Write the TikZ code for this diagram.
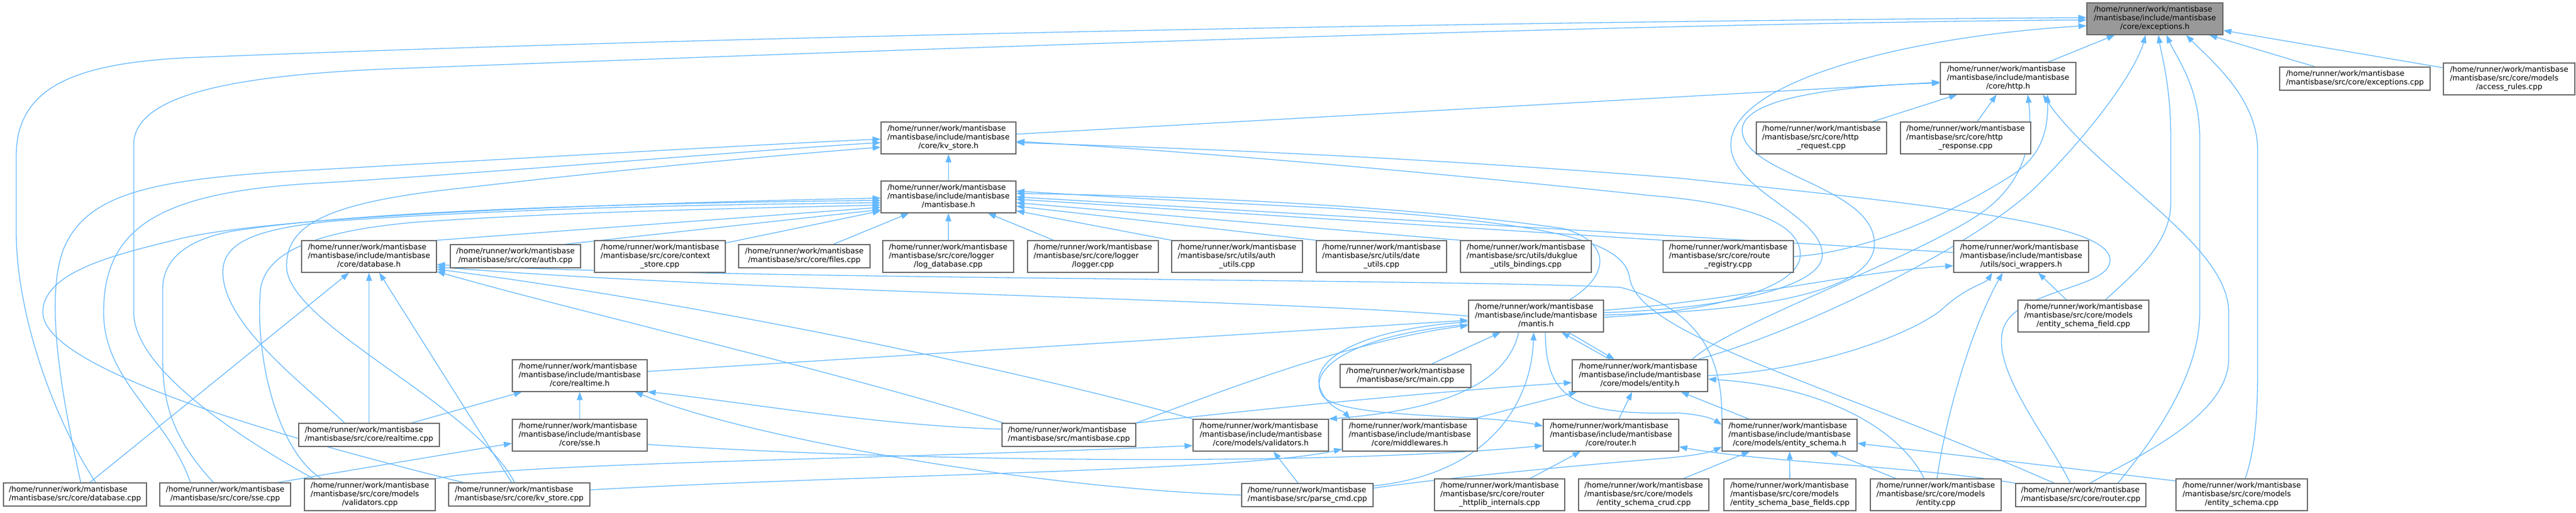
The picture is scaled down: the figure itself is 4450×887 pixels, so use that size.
\documentclass[tikz,border=0pt]{standalone}
\usepackage{fontspec}
\setmainfont{DejaVu Sans}
\usetikzlibrary{arrows.meta,backgrounds,calc}
\definecolor{edgec}{HTML}{63B8FF}
\definecolor{nborder}{HTML}{666666}
\definecolor{mainfill}{HTML}{999999}
\newcommand\LLL[3]{\begin{tabular}{@{}l@{}}#1\\#2\\\multicolumn{1}{@{}c@{}}{#3}\end{tabular}}
\newcommand\LL[2]{\begin{tabular}{@{}l@{}}#1\\\multicolumn{1}{@{}c@{}}{#2}\end{tabular}}
\newcommand\Hm{/home/runner/work/mantisbase}
\newcommand\Inc{/mantisbase/include/mantisbase}
\newcommand\mk[7]{\node[#1, minimum width={(#5-#3)*0.5pt}, minimum height={(#6-#4)*0.5pt}] (#2) at ({(#3+#5)/2},{(#4+#6)/2}) {#7};}
\tikzset{
  nbox/.style={draw=nborder, fill=white, line width=0.6pt, inner sep=0pt, text=black, font=\fontsize{6.5pt}{7.5pt}\selectfont},
  mbox/.style={nbox, fill=mainfill},
  ed/.style={draw=edgec, line width=0.65pt, -{Triangle[length=7pt,width=5pt]}}
}
\begin{document}
\begin{tikzpicture}[x=0.5pt,y=-0.5pt]
\useasboundingbox (0,0) rectangle (4450,887);
% nodes
\mk{mbox}{E}{3605}{5}{3840}{60}{\LLL{\Hm}{\Inc}{/core/exceptions.h}}
\mk{nbox}{H}{3352}{108}{3586}{163}{\LLL{\Hm}{\Inc}{/core/http.h}}
\mk{nbox}{excpp}{3938}{116}{4198}{156}{\LL{\Hm}{/mantisbase/src/core/exceptions.cpp}}
\mk{nbox}{access}{4221}{109}{4448}{164}{\LLL{\Hm}{/mantisbase/src/core/models}{/access\_rules.cpp}}
\mk{nbox}{KV}{1522}{211}{1755}{266}{\LLL{\Hm}{\Inc}{/core/kv\_store.h}}
\mk{nbox}{hreq}{3034}{211}{3259}{266}{\LLL{\Hm}{/mantisbase/src/core/http}{\_request.cpp}}
\mk{nbox}{hresp}{3283}{211}{3508}{266}{\LLL{\Hm}{/mantisbase/src/core/http}{\_response.cpp}}
\mk{nbox}{MB}{1522}{313}{1755}{368}{\LLL{\Hm}{\Inc}{/mantisbase.h}}
\mk{nbox}{DB}{521}{416}{754}{471}{\LLL{\Hm}{\Inc}{/core/database.h}}
\mk{nbox}{auth}{778}{423}{1003}{463}{\LL{\Hm}{/mantisbase/src/core/auth.cpp}}
\mk{nbox}{ctx}{1027}{416}{1253}{471}{\LLL{\Hm}{/mantisbase/src/core/context}{\_store.cpp}}
\mk{nbox}{files}{1276}{423}{1503}{463}{\LL{\Hm}{/mantisbase/src/core/files.cpp}}
\mk{nbox}{logdb}{1525}{416}{1751}{471}{\LLL{\Hm}{/mantisbase/src/core/logger}{/log\_database.cpp}}
\mk{nbox}{logger}{1775}{416}{2001}{471}{\LLL{\Hm}{/mantisbase/src/core/logger}{/logger.cpp}}
\mk{nbox}{authu}{2024}{416}{2250}{471}{\LLL{\Hm}{/mantisbase/src/utils/auth}{\_utils.cpp}}
\mk{nbox}{dateu}{2274}{416}{2499}{471}{\LLL{\Hm}{/mantisbase/src/utils/date}{\_utils.cpp}}
\mk{nbox}{duk}{2523}{416}{2749}{471}{\LLL{\Hm}{/mantisbase/src/utils/dukglue}{\_utils\_bindings.cpp}}
\mk{nbox}{routereg}{2873}{416}{3098}{471}{\LLL{\Hm}{/mantisbase/src/core/route}{\_registry.cpp}}
\mk{nbox}{SW}{3375}{416}{3608}{471}{\LLL{\Hm}{\Inc}{/utils/soci\_wrappers.h}}
\mk{nbox}{M}{2537}{519}{2770}{574}{\LLL{\Hm}{\Inc}{/mantis.h}}
\mk{nbox}{esf}{3486}{519}{3712}{574}{\LLL{\Hm}{/mantisbase/src/core/models}{/entity\_schema\_field.cpp}}
\mk{nbox}{RT}{885}{622}{1118}{677}{\LLL{\Hm}{\Inc}{/core/realtime.h}}
\mk{nbox}{main}{2315}{630}{2541}{670}{\LL{\Hm}{/mantisbase/src/main.cpp}}
\mk{nbox}{EN}{2716}{622}{2950}{677}{\LLL{\Hm}{\Inc}{/core/models/entity.h}}
\mk{nbox}{rtcpp}{516}{732}{759}{772}{\LL{\Hm}{/mantisbase/src/core/realtime.cpp}}
\mk{nbox}{SSE}{885}{725}{1118}{780}{\LLL{\Hm}{\Inc}{/core/sse.h}}
\mk{nbox}{mbcpp}{1731}{732}{1962}{772}{\LL{\Hm}{/mantisbase/src/mantisbase.cpp}}
\mk{nbox}{VH}{2061}{725}{2295}{780}{\LLL{\Hm}{\Inc}{/core/models/validators.h}}
\mk{nbox}{MW}{2319}{725}{2552}{780}{\LLL{\Hm}{\Inc}{/core/middlewares.h}}
\mk{nbox}{R}{2666}{725}{2900}{780}{\LLL{\Hm}{\Inc}{/core/router.h}}
\mk{nbox}{ES}{2975}{725}{3208}{780}{\LLL{\Hm}{\Inc}{/core/models/entity\_schema.h}}
\mk{nbox}{dbcpp}{6}{835}{253}{875}{\LL{\Hm}{/mantisbase/src/core/database.cpp}}
\mk{nbox}{ssecpp}{276}{835}{502}{875}{\LL{\Hm}{/mantisbase/src/core/sse.cpp}}
\mk{nbox}{valcpp}{526}{828}{752}{883}{\LLL{\Hm}{/mantisbase/src/core/models}{/validators.cpp}}
\mk{nbox}{kvcpp}{775}{835}{1019}{875}{\LL{\Hm}{/mantisbase/src/core/kv\_store.cpp}}
\mk{nbox}{parse}{2145}{836}{2372}{876}{\LL{\Hm}{/mantisbase/src/parse\_cmd.cpp}}
\mk{nbox}{httplib}{2478}{828}{2703}{883}{\LLL{\Hm}{/mantisbase/src/core/router}{\_httplib\_internals.cpp}}
\mk{nbox}{crud}{2727}{828}{2952}{883}{\LLL{\Hm}{/mantisbase/src/core/models}{/entity\_schema\_crud.cpp}}
\mk{nbox}{basef}{2978}{828}{3206}{883}{\LLL{\Hm}{/mantisbase/src/core/models}{/entity\_schema\_base\_fields.cpp}}
\mk{nbox}{entcpp}{3231}{828}{3457}{883}{\LLL{\Hm}{/mantisbase/src/core/models}{/entity.cpp}}
\mk{nbox}{rcpp}{3482}{836}{3707}{876}{\LL{\Hm}{/mantisbase/src/core/router.cpp}}
\mk{nbox}{escpp}{3759}{828}{3986}{883}{\LLL{\Hm}{/mantisbase/src/core/models}{/entity\_schema.cpp}}
\begin{scope}[on background layer]
\fill[white] (0,0) rectangle (4450,887);
% ---- to exceptions.h
\draw[ed] (H) -- (E);
\draw[ed] (excpp) -- (E);
\draw[ed] (access) -- (E);
\draw[ed] ([xshift=3pt]escpp.north) .. controls (3895,780) and (3900,720) .. (3900,640) -- (3900,260) .. controls (3900,170) and (3820,105) .. ([xshift=27pt]E.south);
\draw[ed] ([yshift=3pt]M.east) .. controls (2960,535) and (3150,500) .. (3148,440) .. controls (3146,370) and (2990,330) .. (2990,250) .. controls (2990,140) and (3300,62) .. ([yshift=-6pt]E.west);
\draw[ed] ([xshift=18pt]dbcpp.north) .. controls (90,720) and (28,540) .. (28,400) -- (28,270) .. controls (28,150) and (130,110) .. (320,100) .. controls (1300,60) and (2700,36) .. ([yshift=1pt]E.west);
\draw[ed] ([xshift=-49pt]valcpp.north) .. controls (420,760) and (231,640) .. (231,540) -- (231,250) .. controls (231,160) and (420,128) .. (700,118) .. controls (1500,88) and (2800,40) .. ([yshift=-1pt]E.west);
\draw[ed] ([xshift=50pt]EN.north) .. controls (3120,570) and (3420,420) .. (3520,320) .. controls (3620,220) and (3690,120) .. ([xshift=-8pt]E.south);
\draw[ed] ([xshift=19pt]esf.north) .. controls (3690,470) and (3750,420) .. (3750,350) -- (3750,240) .. controls (3750,150) and (3735,100) .. ([xshift=3pt]E.south);
\draw[ed] ([xshift=32pt]rcpp.north) .. controls (3720,760) and (3800,650) .. (3800,540) -- (3800,240) .. controls (3800,150) and (3760,100) .. ([xshift=10pt]E.south);
% ---- to http.h
\draw[ed] (KV) -- (H);
\draw[ed] (hreq) -- (H);
\draw[ed] (hresp) -- (H);
\draw[ed] ([yshift=1pt]M.east) .. controls (3010,540) and (3240,510) .. (3238,420) .. controls (3236,320) and (3000,300) .. (3010,220) .. controls (3020,165) and (3200,148) .. ([yshift=-4pt]H.west);
\draw[ed] ([xshift=8pt]rcpp.north) .. controls (3690,790) and (3850,720) .. (3850,620) -- (3850,540) .. controls (3850,420) and (3620,300) .. ([xshift=30pt]H.south);
\draw[ed] ([xshift=45pt]EN.north) .. controls (2990,560) and (3300,450) .. (3420,370) .. controls (3500,315) and (3512,240) .. ([xshift=17pt]H.south);
\draw[ed] (routereg.east) .. controls (3250,435) and (3420,340) .. (3480,300) .. controls (3530,265) and (3538,220) .. ([xshift=34pt]H.south);
% ---- to kv_store.h
\draw[ed] (MB) -- (KV);
\draw[ed] ([xshift=5pt]dbcpp.north) .. controls (110,700) and (75,520) .. (110,430) .. controls (150,335) and (260,310) .. (520,295) .. controls (1000,268) and (1350,248) .. ([yshift=-1pt]KV.west);
\draw[ed] ([xshift=-30pt]ssecpp.north) .. controls (290,720) and (179,660) .. (179,540) .. controls (179,390) and (280,330) .. (560,316) .. controls (900,295) and (1300,260) .. ([yshift=-4pt]KV.west);
\draw[ed] ([xshift=-4pt]kvcpp.north) .. controls (820,700) and (495,560) .. (495,460) .. controls (495,390) and (560,350) .. (800,325) .. controls (1100,290) and (1350,268) .. ([yshift=-8pt]KV.west);
\draw[ed] ([yshift=-1pt]M.east) .. controls (2950,540) and (3110,500) .. (3110,440) .. controls (3110,380) and (3000,350) .. (2850,338) .. controls (2400,290) and (2000,258) .. ([yshift=-3pt]KV.east);
\draw[ed] ([xshift=-9pt]rcpp.north) .. controls (3540,760) and (3440,640) .. (3460,570) .. controls (3480,500) and (3645,500) .. (3645,450) .. controls (3645,390) and (3400,360) .. (2900,308) .. controls (2400,268) and (2000,255) .. ([yshift=-4pt]KV.east);
% ---- to mantisbase.h
\draw[ed] (DB.north east) -- ([yshift=-9pt]MB.west);
\draw[ed] ([xshift=-14pt]auth.north east) -- ([yshift=-11pt]MB.west);
\draw[ed] (ctx) -- (MB);
\draw[ed] (files) -- (MB);
\draw[ed] (logdb) -- (MB);
\draw[ed] (logger) -- (MB);
\draw[ed] (authu.north west) -- ([yshift=-12pt]MB.east);
\draw[ed] (dateu.north west) -- ([yshift=-8pt]MB.east);
\draw[ed] (duk.north west) -- ([yshift=-5pt]MB.east);
\draw[ed] (routereg.north west) -- ([yshift=-2pt]MB.east);
\draw[ed] (SW) -- (MB.east);
\draw[ed] ([xshift=29pt]M.north) .. controls (2790,470) and (2775,415) .. (2700,395) .. controls (2400,352) and (2000,338) .. ([yshift=3pt]MB.east);
\draw[ed] ([xshift=-23pt]rcpp.north) .. controls (3150,660) and (2830,580) .. (2815,480) .. controls (2805,410) and (2650,385) .. (2300,360) .. controls (2000,345) .. ([yshift=5pt]MB.east);
\draw[ed] ([xshift=-48pt]kvcpp.north) .. controls (500,760) and (74,640) .. (74,540) .. controls (74,470) and (200,440) .. (302,415) .. controls (430,380) and (900,355) .. ([yshift=-1pt]MB.west);
\draw[ed] ([xshift=-10pt]ssecpp.north) .. controls (300,760) and (281,700) .. (281,620) -- (281,500) .. controls (281,450) and (320,415) .. (400,400) .. controls (600,368) and (1000,352) .. ([yshift=-3pt]MB.west);
\draw[ed] ([xshift=-21pt]rtcpp.north) .. controls (520,660) and (385,560) .. (385,470) .. controls (385,420) and (440,395) .. (580,382) .. controls (900,360) and (1200,354) .. ([yshift=-5pt]MB.west);
\draw[ed] ([xshift=-42pt]valcpp.north) .. controls (480,780) and (440,620) .. (450,500) .. controls (460,430) and (560,398) .. (720,384) .. controls (1000,365) and (1300,360) .. ([yshift=-7pt]MB.west);
% ---- to database.h
\draw[ed] (dbcpp) -- (DB);
\draw[ed] (rtcpp) -- (DB);
\draw[ed] (kvcpp) -- (DB);
\draw[ed] (M.west) .. controls (2200,518) and (1300,505) .. ([yshift=-9pt]DB.east);
\draw[ed] (ES.north west) .. controls (2975,650) and (2960,540) .. (2800,497) .. controls (2500,482) and (1300,484) .. ([yshift=-7pt]DB.east);
\draw[ed] (VH.north west) .. controls (1800,650) and (1250,530) .. ([yshift=-11pt]DB.east);
\draw[ed] ([xshift=2pt]mbcpp.north west) .. controls (1400,630) and (1000,540) .. ([yshift=-13pt]DB.east);
% ---- to mantis.h
\draw[ed] (RT) -- (M);
\draw[ed] (main) -- (M);
\draw[ed] (mbcpp.north east) .. controls (2100,680) and (2330,590) .. ([yshift=-8pt]M.west);
\draw[ed] ([yshift=8pt]parse.east) .. controls (2570,820) and (2645,700) .. ([xshift=-2pt]M.south);
\draw[ed] ([xshift=-26pt]EN.north) -- ([xshift=22pt]M.south);
% ---- from mantis.h (cycles)
\draw[ed] ([xshift=28pt]M.south) -- ([xshift=-22pt]EN.north);
\draw[ed] ([xshift=-15pt]M.south) .. controls (2600,680) and (2450,712) .. (VH.north east);
\draw[ed] ([yshift=-5pt]M.west) .. controls (2340,570) and (2265,625) .. (2280,670) .. controls (2292,705) and (2320,710) .. ([xshift=7pt]MW.north west);
\draw[ed] ([yshift=-7pt]M.west) .. controls (2330,580) and (2255,640) .. (2285,685) .. controls (2320,725) and (2560,715) .. ([yshift=8pt]R.west);
\draw[ed] ([xshift=8pt]M.south) .. controls (2670,690) and (2720,718) .. (2900,714) .. controls (2935,717) and (2955,722) .. ([yshift=9pt]ES.west);
% ---- to realtime.h
\draw[ed] (SSE) -- (RT);
\draw[ed] (rtcpp) -- (RT);
\draw[ed] ([yshift=5pt]mbcpp.west) .. controls (1500,735) and (1250,690) .. (RT.south east);
\draw[ed] (parse.west) .. controls (1800,845) and (1300,760) .. ([xshift=-11pt]RT.south east);
% ---- to sse.h
\draw[ed] ([xshift=-12pt]ssecpp.north east) -- ([yshift=-7pt]SSE.west);
% ---- to router.h
\draw[ed] (httplib) -- (R);
\draw[ed] (rcpp.north west) .. controls (3300,805) and (3050,800) .. ([yshift=-10pt]R.east);
\draw[ed] ([yshift=-8pt]SSE.east) .. controls (1600,800) and (2300,805) .. ([yshift=-9pt]R.west);
% ---- to validators.h
\draw[ed] (parse) -- (VH);
\draw[ed] (valcpp.north east) .. controls (900,800) and (1500,795) .. ([yshift=-9pt]VH.west);
% ---- to middlewares.h
\draw[ed] ([yshift=4pt]kvcpp.east) .. controls (1500,820) and (2150,815) .. ([yshift=-12pt]MW.west);
% ---- to entity.h
\draw[ed] (ES) -- (EN);
\draw[ed] (R) -- (EN);
\draw[ed] (MW) -- (EN);
\draw[ed] ([xshift=-10pt]entcpp.north) .. controls (3280,740) and (3150,668) .. ([yshift=-3pt]EN.east);
\draw[ed] (mbcpp.north east) .. controls (2200,705) and (2500,675) .. ([yshift=-6pt]EN.west);
% ---- to soci_wrappers.h
\draw[ed] ([yshift=5pt]M.east) .. controls (3000,520) and (3200,470) .. ([yshift=-8pt]SW.west);
\draw[ed] ([xshift=1pt]entcpp.north) .. controls (3365,700) and (3410,560) .. ([xshift=-16pt]SW.south);
\draw[ed] (esf) -- (SW);
\draw[ed] (EN.east) .. controls (3150,640) and (3320,570) .. (3360,530) .. controls (3400,495) and (3430,490) .. ([xshift=-25pt]SW.south);
% ---- to entity_schema.h
\draw[ed] (crud) -- (ES);
\draw[ed] (basef) -- (ES);
\draw[ed] (entcpp) -- (ES);
\draw[ed] ([yshift=12pt]escpp.west) -- ([yshift=-7pt]ES.east);
\draw[ed] ([yshift=6pt]parse.east) .. controls (2500,825) and (2780,800) .. (2880,792) .. controls (2920,788) and (2950,784) .. ([yshift=-10pt]ES.west);
\end{scope}
\end{tikzpicture}
\end{document}
